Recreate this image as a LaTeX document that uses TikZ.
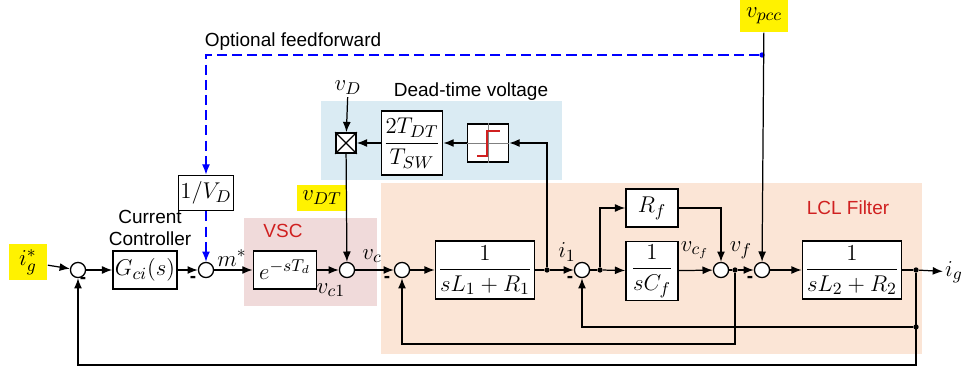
\documentclass[tikz,border=0pt]{standalone}
\usepackage{amsmath}
\usepackage{fontspec}
\setsansfont{Liberation Sans}
\usepackage{tikz}
\usetikzlibrary{arrows.meta, positioning, calc}

\definecolor{vscfill}{HTML}{F0DADA}
\definecolor{dtfill}{HTML}{DAEBF3}
\definecolor{lclfill}{HTML}{FBE5D6}
\definecolor{tagred}{HTML}{D02020}

\begin{document}
\begin{tikzpicture}[
    x=0.0185cm, y=-0.0185cm,
    >={Latex[length=5.4pt,width=4.2pt]},
    wire/.style={line width=0.65pt},
    block/.style={rectangle, draw, line width=0.9pt, fill=white, inner sep=1pt,
                  font=\fontsize{13}{15}\selectfont},
    sumj/.style={circle, draw, fill=white, line width=0.7pt, minimum size=0.28cm,
                 inner sep=0pt},
    junc/.style={circle, fill, inner sep=0pt, minimum size=2.8pt},
    sig/.style={font=\fontsize{13}{15}\selectfont, inner sep=1pt},
    hl/.style={sig, fill=yellow, inner sep=3pt},
    caption/.style={font=\sffamily\fontsize{10}{11.5}\selectfont, align=center},
    minus/.style={font=\sffamily\bfseries\fontsize{10}{12}\selectfont, inner sep=0pt},
    ffwd/.style={wire, blue, dash pattern=on 5.3pt off 2.7pt}
]
\useasboundingbox (0,0) rectangle (962,368);

% shaded regions
\fill[vscfill] (244,218) rectangle (377,306);
\fill[dtfill] (321,101) rectangle (562,180);
\fill[lclfill] (381,183) rectangle (922,354);

% controller side
\node[hl, minimum width=0.72cm, minimum height=0.55cm] (igref) at (28,262) {$i_g^*$};
\node[sumj] (s1) at (78,270) {};
\node[block, minimum width=1.15cm, minimum height=0.70cm] (gci) at (145,270) {$G_{ci}(s)$};
\node[caption] (ctrltxt) at (150,228) {Current\\Controller};
\node[sumj] (s2) at (206,270) {};
\node[block, minimum width=0.94cm, minimum height=0.65cm] (invvd) at (206,193) {$1/V_D$};
\node[sig] (mstar) at (232,258) {$m^*$};

% VSC
\node[caption, text=tagred] (vsctxt) at (283,231) {VSC};
\node[block, minimum width=1.17cm, minimum height=0.70cm] (delay) at (285,270) {$e^{-sT_d}$};
\node[sig] (vc1) at (331,290) {$v_{c1}$};
\node[sumj] (s3) at (347,270) {};
\node[hl, minimum width=0.68cm, minimum height=0.48cm] (vdt) at (322,198) {$v_{DT}$};
\node[sig] (vc) at (372,256) {$v_c$};

% dead-time voltage
\node[caption] (dttxt) at (471,92) {Dead-time voltage};
\node[sig] (vd) at (348,88) {$v_D$};
\node[block, minimum size=0.37cm] (mult) at (346,143) {};
\draw[line width=0.7pt] (mult.north west) -- (mult.south east)
                        (mult.north east) -- (mult.south west);
\node[block, minimum width=1.11cm, minimum height=1.18cm] (gain) at (412,143) {$\dfrac{2T_{DT}}{T_{SW}}$};
\node[block, minimum width=0.76cm, minimum height=0.70cm] (relay) at (488,143) {};
\draw[gray, line width=0.5pt] (relay.west) -- (relay.east) (relay.north) -- (relay.south);
\draw[tagred, line width=1.3pt] ($(relay)+(-11,13)$) -- ++(10,0) -- ++(0,-25) -- ++(13,0);

% LCL filter
\node[caption, text=tagred] (lcltxt) at (848,208) {LCL Filter};
\node[sumj] (s4) at (402,270) {};
\node[block, minimum width=1.83cm, minimum height=1.07cm] (l1) at (485,270) {$\dfrac{1}{sL_1+R_1}$};
\node[junc] (j1) at (547,270) {};
\node[sig] (i1) at (567,252) {$i_1$};
\node[sumj] (s5) at (582,270) {};
\node[junc] (j2) at (600,270) {};
\node[block, minimum width=0.96cm, minimum height=0.70cm] (rf) at (652,208) {$R_f$};
\node[block, minimum width=0.96cm, minimum height=1.09cm] (cf) at (652,271) {$\dfrac{1}{sC_f}$};
\node[sig] (vcf) at (695,250) {$v_{c_f}$};
\node[sumj] (s6) at (721,270) {};
\node[junc] (jvf) at (735,270) {};
\node[sig] (vf) at (741,250) {$v_f$};
\node[sumj] (s7) at (762,270) {};
\node[block, minimum width=1.83cm, minimum height=1.07cm] (l2) at (852,270) {$\dfrac{1}{sL_2+R_2}$};
\node[junc] (jig) at (916,270) {};
\node[junc] (jig2) at (916,327) {};
\node[sig] (ig) at (954,272) {$i_g$};

% grid voltage and feedforward
\node[hl, minimum width=0.70cm, minimum height=0.60cm] (vpcc) at (764,16) {$v_{pcc}$};
\node[junc, blue] (jff) at (762,55) {};
\node[caption] (fftxt) at (293,42) {Optional feedforward};

\coordinate (fbig) at (78,365);
\coordinate (fbvf) at (735,344);

% forward path
\draw[wire, ->] (igref) -- (s1);
\draw[wire, ->] (s1) -- (gci);
\draw[wire, ->] (gci) -- (s2);
\draw[wire, ->] (s2) -- (delay);
\draw[wire, ->] (delay) -- (s3);
\draw[wire, ->] (s3) -- (s4);
\draw[wire, ->] (s4) -- (l1);
\draw[wire] (l1) -- (j1);
\draw[wire, ->] (j1) -- (s5);
\draw[wire] (s5) -- (j2);
\draw[wire, ->] (j2) -- (cf);
\draw[wire, ->] (j2) |- (rf);
\draw[wire, ->] (rf) -| (s6);
\draw[wire, ->] (cf) -- (s6);
\draw[wire] (s6) -- (jvf);
\draw[wire, ->] (jvf) -- (s7);
\draw[wire, ->] (s7) -- (l2);
\draw[wire] (l2) -- (jig);
\draw[wire, ->] (jig) -- (ig);

% feedback paths
\draw[wire, ->] (jig) |- (fbig) -- (s1);
\draw[wire, ->] (jig2) -| (s5);
\draw[wire, ->] (jvf) -- (fbvf) -| (s4);
\draw[wire, ->] (vpcc) -- (s7);

% dead-time branch
\draw[wire, ->] (j1) |- (relay);
\draw[wire, ->] (relay) -- (gain);
\draw[wire, ->] (gain) -- (mult);
\draw[wire, ->] (vd) -- (mult);
\draw[wire, ->] (mult) -- (s3);

% feedforward
\draw[ffwd, ->] (jff) -| (invvd);
\draw[ffwd, ->] (invvd) -- (s2);

% signs
\node[minus] (m1) at (83,280) {-};
\node[minus] (m2) at (193,279) {-};
\node[minus] (m4) at (387,279) {-};
\node[minus] (m5) at (570,279) {-};
\node[minus] (m7) at (750,279) {-};
\end{tikzpicture}
\end{document}
